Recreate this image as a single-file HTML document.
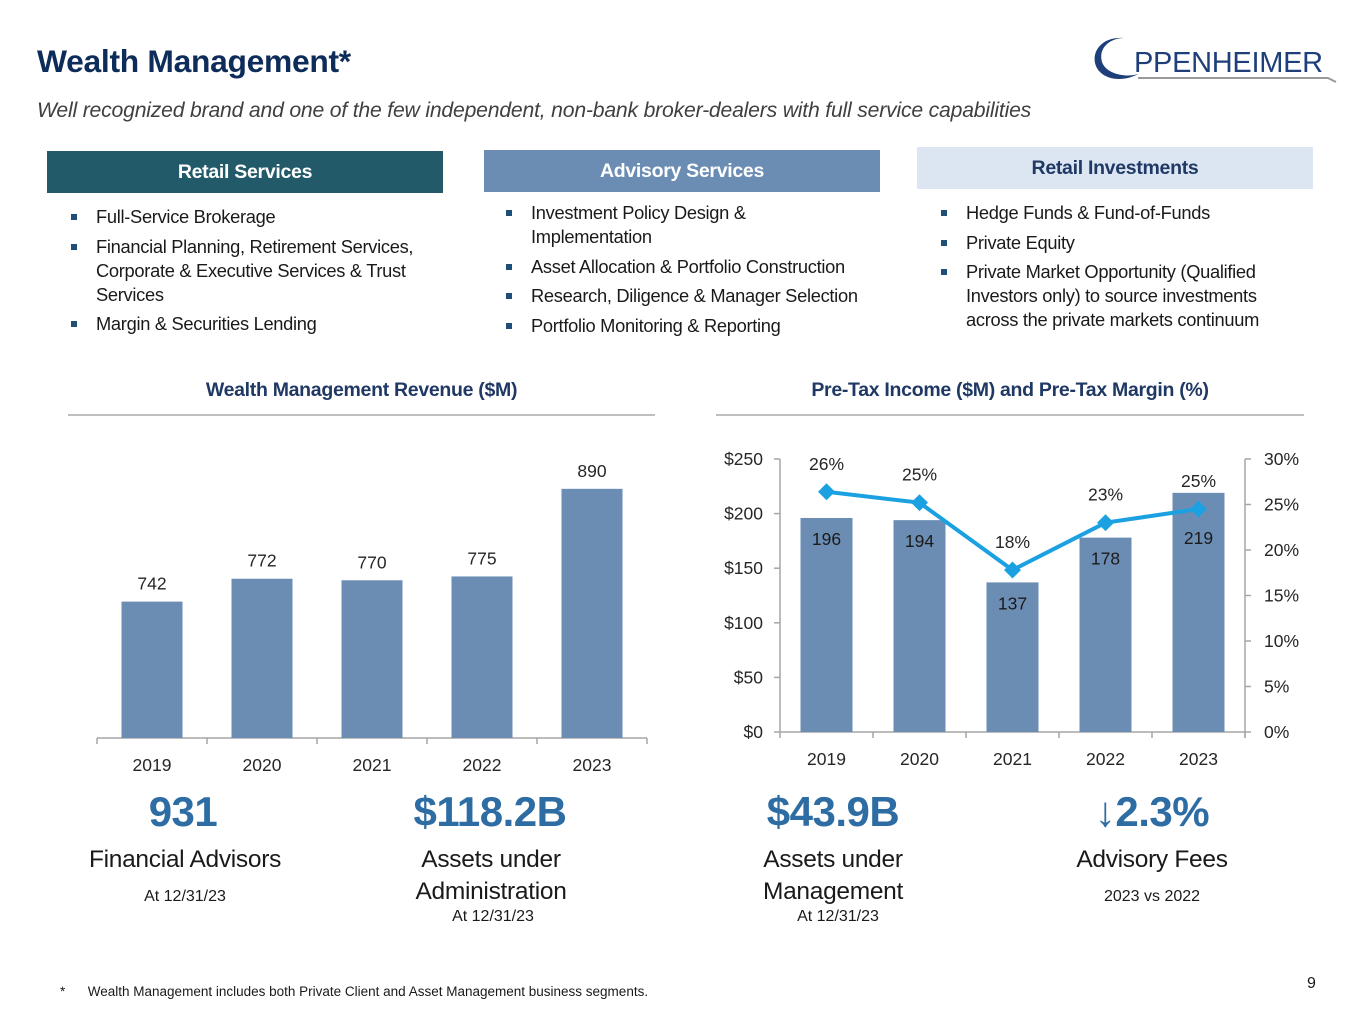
<!DOCTYPE html>
<html><head><meta charset="utf-8">
<style>
*{margin:0;padding:0;box-sizing:border-box}
body{width:1365px;height:1024px;background:#fff;font-family:"Liberation Sans",sans-serif;position:relative;overflow:hidden;color:#1a1a1a}
.a{position:absolute;white-space:nowrap}
.hdr{position:absolute;height:42px;color:#fff;font-weight:bold;font-size:19.5px;text-align:center;line-height:42px;letter-spacing:-0.3px}
ul{position:absolute;list-style:none;font-size:18.3px;line-height:24px;letter-spacing:-0.3px}
li{position:relative;padding-left:35px;margin-bottom:5.5px}
li:before{content:"";position:absolute;left:10px;top:9px;width:6px;height:6px;background:#1f4e79}
.ct{position:absolute;font-weight:bold;font-size:19.5px;color:#1f3864;text-align:center;letter-spacing:-0.3px}
.big{position:absolute;font-weight:bold;font-size:42px;color:#2e6da4;text-align:center;letter-spacing:-0.5px}
.lab{position:absolute;font-size:24.5px;text-align:center;line-height:32px;letter-spacing:-0.3px}
.sm{position:absolute;font-size:16px;text-align:center}
svg text{font-family:"Liberation Sans",sans-serif}
</style></head><body>
<div class="a" style="left:37px;top:43px;font-size:31.8px;font-weight:bold;color:#0e2c5a;letter-spacing:-0.3px">Wealth Management*</div>
<div class="a" style="left:37px;top:99px;font-size:21.2px;font-style:italic;color:#404040;letter-spacing:-0.2px">Well recognized brand and one of the few independent, non-bank broker-dealers with full service capabilities</div>
<div style="position:absolute;left:1090px;top:34px;width:250px;height:50px">
<svg width="250" height="50"><path d="M34 4 C6 2 -2 26 10 38 C20 48 38 46 48 40 C36 44 16 40 12 28 C8 14 20 4 34 4Z" fill="#1f3f7a"/><text x="44" y="38" font-family="Liberation Serif,serif" font-size="29" fill="#1f3f7a" letter-spacing="-0.3">PPENHEIMER</text><path d="M48 44 L238 44 L246 48" stroke="#999" stroke-width="2" fill="none"/></svg></div>

<div class="hdr" style="left:47px;top:151px;width:396px;background:#235a6a">Retail Services</div>
<div class="hdr" style="left:484px;top:150px;width:396px;background:#6b8db4">Advisory Services</div>
<div class="hdr" style="left:917px;top:147px;width:396px;background:#dce6f2;color:#1f3864">Retail Investments</div>

<ul style="left:61px;top:205px;width:395px">
<li>Full-Service Brokerage</li>
<li style="white-space:normal">Financial Planning, Retirement Services, Corporate &amp; Executive Services &amp; Trust Services</li>
<li>Margin &amp; Securities Lending</li></ul>
<ul style="left:496px;top:201px;width:400px">
<li style="white-space:normal;width:300px">Investment Policy Design &amp; Implementation</li>
<li>Asset Allocation &amp; Portfolio Construction</li>
<li>Research, Diligence &amp; Manager Selection</li>
<li>Portfolio Monitoring &amp; Reporting</li></ul>
<ul style="left:931px;top:201px;width:360px">
<li>Hedge Funds &amp; Fund-of-Funds</li>
<li>Private Equity</li>
<li style="white-space:normal">Private Market Opportunity (Qualified Investors only) to source investments across the private markets continuum</li></ul>

<div class="ct" style="left:68px;top:379px;width:587px">Wealth Management Revenue ($M)</div>
<div class="ct" style="left:716px;top:379px;width:588px">Pre-Tax Income ($M) and Pre-Tax Margin (%)</div>

<svg id="chart" class="a" style="left:0;top:0" width="1365" height="1024"></svg>

<div class="big" style="left:83px;top:788px;width:200px">931</div>
<div class="lab" style="left:60px;top:844px;width:250px">Financial Advisors</div>
<div class="sm" style="left:85px;top:888px;width:200px">At 12/31/23</div>
<div class="big" style="left:380px;top:788px;width:220px">$118.2B</div>
<div class="lab" style="left:361px;top:844px;width:260px">Assets under<br>Administration</div>
<div class="sm" style="left:393px;top:908px;width:200px">At 12/31/23</div>
<div class="big" style="left:723px;top:788px;width:220px">$43.9B</div>
<div class="lab" style="left:703px;top:844px;width:260px">Assets under<br>Management</div>
<div class="sm" style="left:738px;top:908px;width:200px">At 12/31/23</div>
<div class="big" style="left:1042px;top:788px;width:220px">↓2.3%</div>
<div class="lab" style="left:1022px;top:844px;width:260px">Advisory Fees</div>
<div class="sm" style="left:1052px;top:888px;width:200px">2023 vs 2022</div>

<div class="a" style="left:60px;top:984px;font-size:13.5px">*&nbsp;&nbsp;&nbsp;&nbsp;&nbsp;&nbsp;Wealth Management includes both Private Client and Asset Management business segments.</div>
<div class="a" style="left:1307px;top:975px;font-size:16px">9</div>

<script>
const years = ["2019","2020","2021","2022","2023"];
const revenue = [742,772,770,775,890];
const pretax = [196,194,137,178,219];
const margin = [26.4,25.2,17.8,23.0,24.5];
const marginLabels = ["26%","25%","18%","23%","25%"];
const leftTicks = [0,50,100,150,200,250];
const rightTicks = [0,5,10,15,20,25,30];

const svg = document.getElementById('chart');
const NS = 'http://www.w3.org/2000/svg';
function mk(tag, attrs, txt){const e=document.createElementNS(NS,tag);for(const k in attrs)e.setAttribute(k,attrs[k]);if(txt!==undefined)e.textContent=txt;svg.appendChild(e);return e;}

let e;
e=mk('line',{x1:68,y1:415,x2:655,y2:415,stroke:'#bfbfbf','stroke-width':2});


e=mk('line',{x1:716,y1:415,x2:1304,y2:415,stroke:'#bfbfbf','stroke-width':2});



// Revenue chart
const rX0=97, rBand=110, rBase=738;
const rY = v => rBase - (v-563)*0.762;
e=mk('line',{x1:rX0,y1:rBase,x2:rX0+rBand*years.length,y2:rBase,stroke:'#a6a6a6','stroke-width':1.5});


for(let i=0;i<=years.length;i++){
  e=mk('line',{x1:rX0+rBand*i,y1:rBase,x2:rX0+rBand*i,y2:rBase+6,stroke:'#a6a6a6','stroke-width':1.5});
  
  
}
years.forEach((y,i)=>{
  const cx=rX0+rBand*(i+0.5), top=rY(revenue[i]);
  e=mk('rect',{x:cx-30.5,y:top,width:61,height:rBase-top,fill:'#6b8db4'});
  
  
  e=mk('text',{x:cx,y:top-12,'text-anchor':'middle','font-size':17.5,fill:'#262626'},String(revenue[i]));
  
  
  e=mk('text',{x:cx,y:771,'text-anchor':'middle','font-size':17.5,fill:'#262626'},y);
  
  
});

// Pre-tax chart
const pL=780, pR=1245, pBase=732, pTop=459, pBand=(pR-pL)/years.length;
const pY = v => pBase - v/250*(pBase-pTop);
const mY = v => pBase - v/30*(pBase-pTop);
e=mk('line',{x1:pL,y1:pTop,x2:pL,y2:pBase,stroke:'#a6a6a6','stroke-width':1.5});


e=mk('line',{x1:pR,y1:pTop,x2:pR,y2:pBase+6,stroke:'#a6a6a6','stroke-width':1.5});


e=mk('line',{x1:pL,y1:pBase,x2:pR,y2:pBase,stroke:'#a6a6a6','stroke-width':1.5});


leftTicks.forEach(t=>{
  e=mk('line',{x1:pL-6,y1:pY(t),x2:pL,y2:pY(t),stroke:'#a6a6a6','stroke-width':1.5});
  
  
  e=mk('text',{x:pL-17,y:pY(t)+6,'text-anchor':'end','font-size':17.5,fill:'#262626'},'$'+t);
  
  
});
rightTicks.forEach(t=>{
  e=mk('line',{x1:pR,y1:mY(t),x2:pR+6,y2:mY(t),stroke:'#a6a6a6','stroke-width':1.5});
  
  
  e=mk('text',{x:pR+19,y:mY(t)+6,'font-size':17.5,fill:'#262626'},t+'%');
  
  
});
for(let i=0;i<=years.length;i++){
  e=mk('line',{x1:pL+pBand*i,y1:pBase,x2:pL+pBand*i,y2:pBase+6,stroke:'#a6a6a6','stroke-width':1.5});
  
  
}
const pts = margin.map((m,i)=>[pL+pBand*(i+0.5), mY(m)]);
years.forEach((y,i)=>{
  const cx=pL+pBand*(i+0.5), top=pY(pretax[i]);
  e=mk('rect',{x:cx-26,y:top,width:52,height:pBase-top,fill:'#6b8db4'});
  
  
  let ly = top+27;
  if (Math.abs(ly-6-pts[i][1]) < 20) ly = pts[i][1]+35;
  e=mk('text',{x:cx,y:ly,'text-anchor':'middle','font-size':17.5,fill:'#1a1a1a'},String(pretax[i]));
  
  
  e=mk('text',{x:cx,y:765,'text-anchor':'middle','font-size':17.5,fill:'#262626'},y);
  
  
});
e=mk('polyline',{points:pts.map(p=>p.join(',')).join(' '),fill:'none',stroke:'#1ba1e2','stroke-width':4});


pts.forEach((p,i)=>{
  e=mk('rect',{x:p[0]-6,y:p[1]-6,width:12,height:12,fill:'#1ba1e2',transform:`rotate(45 ${p[0]} ${p[1]})`});
  
  
  e=mk('text',{x:p[0],y:p[1]-22,'text-anchor':'middle','font-size':17.5,fill:'#262626'},marginLabels[i]);
  
  
});
</script>
</body></html>
